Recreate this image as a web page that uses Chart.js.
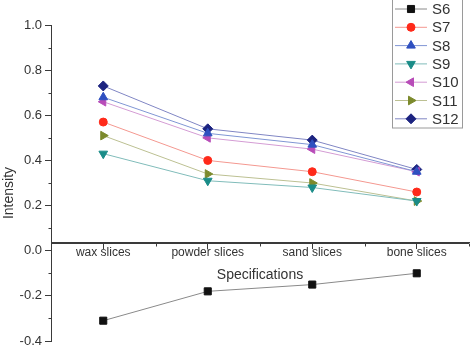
<!DOCTYPE html>
<html>
<head>
<meta charset="utf-8">
<script src="https://cdn.jsdelivr.net/npm/chart.js@4/dist/chart.umd.min.js"></script>
<style>
  html, body { margin: 0; padding: 0; background: #fff; }
</style>
</head>
<body>
<canvas id="c" width="475" height="347"></canvas>
<script>
// categories + series
const categories = ['wax slices', 'powder slices', 'sand slices', 'bone slices'];
const seriesNames = ['S6', 'S7', 'S8', 'S9', 'S10', 'S11', 'S12'];
const s6  = [-0.31, -0.18, -0.15, -0.10];
const s7  = [0.57, 0.40, 0.35, 0.26];
const s8  = [0.68, 0.52, 0.47, 0.35];
const s9  = [0.43, 0.31, 0.28, 0.22];
const s10 = [0.66, 0.50, 0.45, 0.35];
const s11 = [0.51, 0.34, 0.30, 0.22];
const s12 = [0.73, 0.54, 0.49, 0.36];
const yTicks = [-0.4, -0.2, 0.0, 0.2, 0.4, 0.6, 0.8, 1.0];

const seriesData = [s6, s7, s8, s9, s10, s11, s12];
const colors = ['#111111', '#ff2a1a', '#2f50c0', '#1a8c88', '#b84cb8', '#7c8a2c', '#1c2380'];
const lineColors = ['#8a8a8a', '#f49890', '#8096d4', '#80bcba', '#d49cd4', '#bcc092', '#8086c4'];
const styles = ['rect', 'circle', 'triangle', 'triangle', 'triangle', 'triangle', 'rectRot'];
const rotations = [0, 0, 0, 180, 270, 90, 0];
const radii = [5, 4, 5, 5, 5, 5, 5];

const txt = '#333333';
const axisCol = '#3a3a3a';
const fam = '"Liberation Sans", Arial, sans-serif';
const xAxisAt = 0.035;   // where the horizontal axis crosses y

// axis lines, minor ticks, y title and the legend box
const extras = {
    id: 'extras',
    afterDraw(chart) {
        const ctx = chart.ctx;
        const x = chart.scales.x, y = chart.scales.y;
        const area = chart.chartArea;
        const axisY = Math.round(y.getPixelForValue(xAxisAt)) + 0.5;
        const axisX = Math.round(area.left) + 0.5;

        ctx.save();
        ctx.lineWidth = 1;
        ctx.strokeStyle = axisCol;
        ctx.beginPath();
        ctx.moveTo(axisX, area.top);
        ctx.lineTo(axisX, area.bottom + 1);
        ctx.moveTo(area.left, axisY);
        ctx.lineTo(area.right, axisY);
        for (let v = -3; v <= 9; v += 2) {
            const py = Math.round(y.getPixelForValue(v / 10)) + 0.5;
            ctx.moveTo(axisX - 3, py);
            ctx.lineTo(axisX, py);
        }
        for (let i = 0; i < categories.length; i++) {
            const pb = Math.round(x.getPixelForValue(i + 0.5)) + 0.5;
            ctx.moveTo(pb, axisY);
            ctx.lineTo(pb, axisY + 3);
        }
        ctx.stroke();
        ctx.restore();

        ctx.save();
        ctx.fillStyle = txt;
        ctx.font = '14px ' + fam;
        ctx.textAlign = 'center';
        ctx.textBaseline = 'middle';
        ctx.translate(9, 193);
        ctx.rotate(-Math.PI / 2);
        ctx.fillText('Intensity', 0, 0);
        ctx.restore();

        ctx.save();
        ctx.fillStyle = '#fff';
        ctx.fillRect(392, -2, 70, 130);
        ctx.strokeStyle = '#9a9a9a';
        ctx.lineWidth = 1;
        ctx.strokeRect(392.5, -2, 70, 130);
        ctx.font = '15px ' + fam;
        ctx.textBaseline = 'middle';
        chart.data.datasets.forEach((ds, i) => {
            const cy = 9 + i * 18.3;
            ctx.strokeStyle = ds.borderColor;
            ctx.beginPath(); ctx.moveTo(395, cy); ctx.lineTo(427, cy); ctx.stroke();
            ctx.fillStyle = ds.pointBackgroundColor;
            ctx.strokeStyle = ds.pointBackgroundColor;
            Chart.helpers.drawPoint(ctx, {pointStyle: ds.pointStyle, radius: ds.pointRadius, rotation: ds.pointRotation, borderWidth: 1}, 411, cy);
            ctx.fillStyle = txt;
            ctx.fillText(ds.label, 432, cy + 1);
        });
        ctx.restore();
    }
};

const datasets = seriesNames.map((name, i) => ({
    label: name,
    data: seriesData[i],
    borderColor: lineColors[i],
    borderWidth: 1,
    pointStyle: styles[i],
    pointRotation: rotations[i],
    pointRadius: radii[i],
    pointBackgroundColor: colors[i],
    pointBorderColor: colors[i],
    pointBorderWidth: 1,
    tension: 0
}));

new Chart(document.getElementById('c'), {
    type: 'line',
    data: { labels: categories, datasets: datasets },
    plugins: [extras],
    options: {
        responsive: false,
        animation: false,
        layout: { padding: { left: 0, top: 25, right: 2, bottom: 6 } },
        plugins: { legend: { display: false } },
        scales: {
            x: {
                type: 'category',
                offset: true,
                position: { y: xAxisAt },
                afterFit: s => { s.height = 0; s.paddingLeft = 0; s.paddingRight = 0; },
                grid: { display: true, drawOnChartArea: false, drawTicks: true, tickLength: 6, offset: false, color: axisCol },
                border: { display: true, color: axisCol, width: 1 },
                ticks: { color: txt, font: { size: 12, family: fam }, padding: -3, maxRotation: 0 },
                title: { display: true, text: 'Specifications', color: txt, font: { size: 14, family: fam }, padding: { top: 0, bottom: -41 } }
            },
            y: {
                min: -0.4, max: 1.0,
                afterFit: s => { s.width = 51; s.paddingTop = 0; s.paddingBottom = 0; },
                afterBuildTicks: s => { s.ticks = yTicks.map(v => ({ value: v })); },
                grid: { display: true, drawOnChartArea: false, drawTicks: true, tickLength: 6, color: axisCol },
                border: { display: true, color: axisCol, width: 1 },
                ticks: { color: txt, font: { size: 13, family: fam }, padding: 3, callback: v => Number(v).toFixed(1) },
                title: { display: false }
            }
        }
    }
});
</script>
</body>
</html>
